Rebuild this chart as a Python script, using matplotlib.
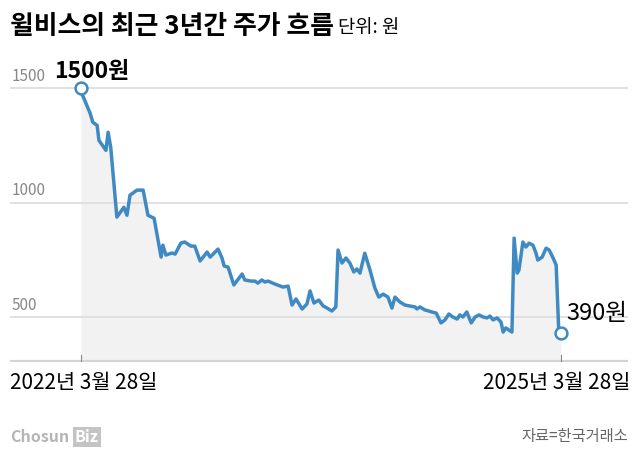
import datetime as dt
import matplotlib
matplotlib.use("Agg")
import matplotlib.pyplot as plt
import matplotlib.dates as mdates

plt.rcParams['font.family'] = ['Noto Sans CJK KR', 'DejaVu Sans']

# 데이터 (2022-03-28 기준 경과일, 주가 원)
start = dt.date(2022, 3, 28)
days = [0, 2, 21, 27, 37, 41, 57, 62, 68, 82, 98, 105, 112, 128, 142, 153, 167,
        183, 187, 194, 208, 215, 228, 237, 251, 260, 272, 288, 295, 313, 322,
        327, 336, 349, 368, 374, 388, 397, 404, 413, 420, 427, 443, 461, 473,
        482, 491, 505, 516, 523, 532, 543, 553, 562, 573, 582, 587, 596, 605,
        614, 623, 630, 637, 648, 660, 671, 680, 690, 701, 710, 717, 728, 740,
        751, 763, 767, 774, 785, 801, 811, 822, 831, 840, 849, 859, 865, 872,
        881, 891, 900, 909, 918, 927, 934, 941, 950, 959, 964, 970, 980, 984,
        989, 996, 1000, 1009, 1016, 1023, 1032, 1039, 1043, 1053, 1062, 1069,
        1078, 1085, 1091, 1096]
prices = [1500, 1478, 1391, 1352, 1338, 1273, 1229, 1308, 1242, 937, 980, 945,
          1033, 1055, 1055, 945, 932, 762, 814, 771, 780, 775, 823, 828, 810,
          810, 745, 784, 762, 797, 758, 723, 718, 640, 688, 662, 657, 657, 648,
          662, 653, 657, 644, 631, 635, 552, 579, 535, 557, 614, 561, 574, 548,
          539, 526, 544, 793, 736, 758, 736, 697, 710, 692, 779, 705, 627, 587,
          600, 587, 539, 587, 566, 552, 548, 544, 535, 544, 531, 522, 517, 474,
          487, 513, 500, 491, 509, 500, 522, 474, 500, 509, 500, 496, 504, 487,
          496, 478, 434, 452, 439, 434, 845, 692, 705, 828, 806, 823, 814, 779,
          749, 762, 801, 793, 758, 727, 434, 430]
dates = [start + dt.timedelta(days=d) for d in days]
yticks = [500, 1000, 1500]
xlabels = ['2022년 3월 28일', '2025년 3월 28일']

fig = plt.figure(figsize=(6.4, 4.72), dpi=100)
ax = fig.add_axes([10/640, 110/472, 618/640, 288/472])

x0 = mdates.date2num(dates[0])
x1 = mdates.date2num(dates[-1])
ax.set_xlim(x0 - 162, x1 + 153)
ax.set_ylim(303, 1563)

for v in yticks:
    ax.axhline(v, color='#dcdcdc', lw=1.2, zorder=1)
    ax.text(0.003, v + 14, str(v), transform=ax.get_yaxis_transform(),
            color='#888888', fontsize=11, va='bottom', ha='left',
            fontweight='light')

ax.fill_between(dates, prices, 303, color='#f2f2f2', lw=0, zorder=0)
ax.plot(dates, prices, color='#3f8ac2', lw=2.5, solid_joinstyle='round',
        zorder=3)
ax.plot([dates[0], dates[-1]], [prices[0], prices[-1]], 'o', ms=8.5,
        mfc='white', mec='#3f8ac2', mew=1.8, zorder=4)

ax.axhline(303, color='#d4d4d4', lw=3, zorder=2)
for d in (dates[0], dates[-1]):
    ax.plot([d, d], [303, 335], color='#888888', lw=0.8, zorder=3)

ax.annotate('1500원', (dates[0], prices[0]), xytext=(-19, 12),
            textcoords='offset points', fontsize=16.5, fontweight='bold',
            va='center', ha='left')
ax.annotate('390원', (dates[-1], prices[-1]), xytext=(3.6, 14),
            textcoords='offset points', fontsize=17, fontweight='medium',
            va='center', ha='left')

ax.axis('off')

fig.text(10/640, 1 - 26/472, '윌비스의 최근 3년간 주가 흐름', fontsize=18.6,
         fontweight='bold', va='center', ha='left')
fig.text(338/640, 1 - 28/472, '단위: 원', fontsize=13.5, va='center', ha='left')

fig.text(10/640, 1 - 383/472, xlabels[0], fontsize=15, va='center', ha='left')
fig.text(630/640, 1 - 383/472, xlabels[1], fontsize=15, va='center',
         ha='right')

fig.text(10/640, 1 - 437/472, 'Chosun', fontsize=11.5, color='#b5b5b5',
         va='center', ha='left', fontweight='bold')
fig.text(75/640, 1 - 437/472, 'Biz', fontsize=11.5, color='white',
         va='center', ha='left', fontweight='bold',
         bbox=dict(boxstyle='square,pad=0.15', fc='#c4c4c4', ec='none'))
fig.text(628/640, 1 - 437/472, '자료=한국거래소', fontsize=11, color='#666666',
         va='center', ha='right')

fig.savefig('out.png', dpi=100)
